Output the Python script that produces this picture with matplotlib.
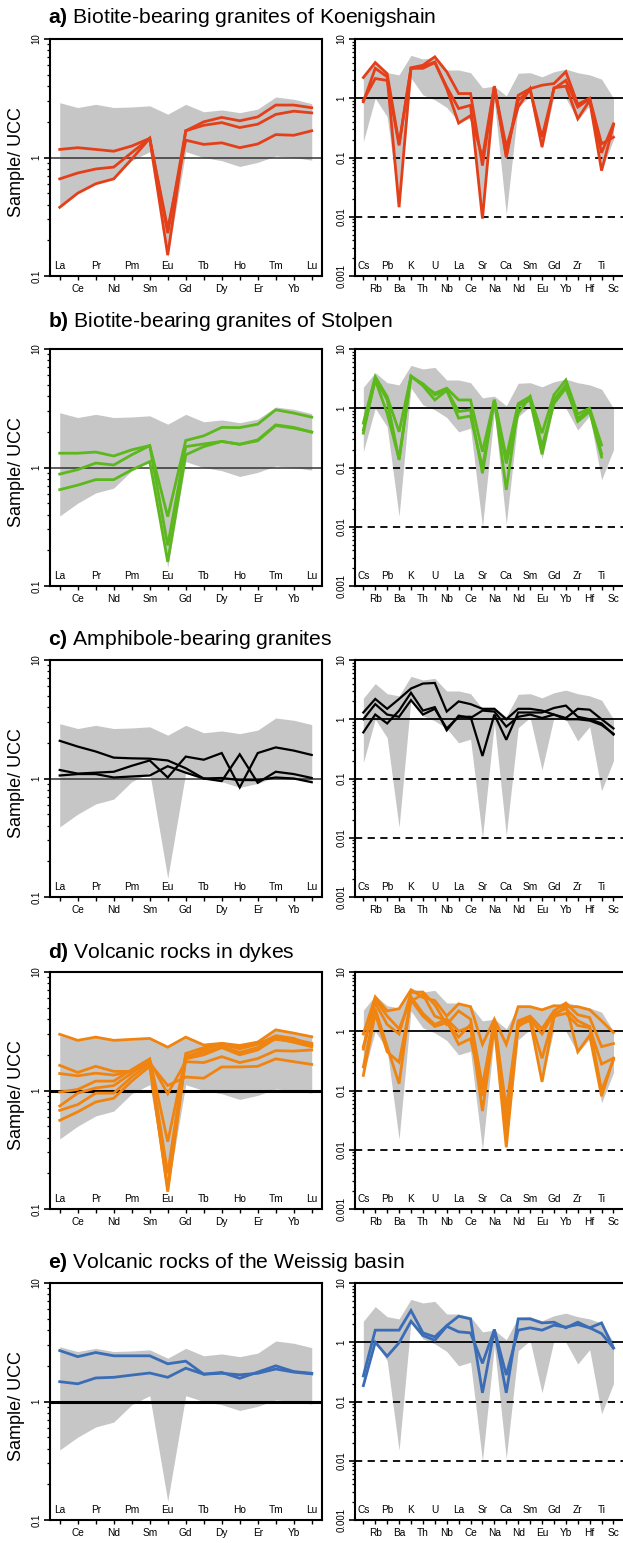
import matplotlib
matplotlib.use('Agg')
import matplotlib.pyplot as plt
import numpy as np
from matplotlib.ticker import NullFormatter, LogLocator

plt.rcParams['font.family'] = ['Liberation Sans', 'DejaVu Sans']
plt.rcParams['mathtext.fontset'] = 'custom'
plt.rcParams['mathtext.rm'] = 'Liberation Sans'
plt.rcParams['mathtext.bf'] = 'Liberation Sans:bold'

nan = np.nan

# element order
ree = ['La', 'Ce', 'Pr', 'Nd', 'Pm', 'Sm', 'Eu', 'Gd', 'Tb', 'Dy', 'Ho', 'Er', 'Tm', 'Yb', 'Lu']
spider = ['Cs', 'Rb', 'Pb', 'Ba', 'K', 'Th', 'U', 'Nb', 'La', 'Ce', 'Sr', 'Na',
          'Ca', 'Nd', 'Sm', 'Eu', 'Gd', 'Yb', 'Zr', 'Hf', 'Ti', 'Sc']

# grey envelope (all samples)
ree_env_hi = [2.9, 2.64, 2.81, 2.64, 2.67, 2.73, 2.32, 2.81, 2.43, 2.52, 2.39, 2.56, 3.24, 3.1, 2.85]
ree_env_lo = [0.39, 0.50, 0.61, 0.67, 0.94, 1.12, 0.144, 1.12, 1.0, 0.94, 0.84, 0.91, 1.03, 1.0, 0.95]
spi_env_hi = [2.26, 4.0, 2.7, 2.48, 5.3, 4.6, 4.9, 3.0, 3.0, 2.7, 1.5, 1.6, 1.1, 2.64,
              2.7, 2.3, 2.8, 3.1, 2.7, 2.48, 2.1, 1.0]
spi_env_lo = [0.185, 1.0, 0.49, 0.015, 2.2, 1.14, 0.94, 0.70, 0.40, 0.46, 0.01, 0.88, 0.011, 0.72,
              1.07, 0.14, 1.07, 1.0, 0.43, 0.75, 0.062, 0.2]

titles = ['a)', 'b)', 'c)', 'd)', 'e)']
subtitles = ['Biotite-bearing granites of Koenigshain',
             'Biotite-bearing granites of Stolpen',
             'Amphibole-bearing granites',
             'Volcanic rocks in dykes',
             'Volcanic rocks of the Weissig basin']
colors = ['#E3401A', '#5CB81C', '#000000', '#F08410', '#3A6DB5']

# a) Koenigshain
ree_a = [
    [1.17, 1.21, 1.17, 1.13, 1.25, 1.45, 0.23, 1.68, 2.0, 2.18, 2.04, 2.2, 2.77, 2.77, 2.63],
    [0.66, 0.74, 0.80, 0.83, 1.10, 1.45, 0.15, 1.68, 1.87, 1.97, 1.79, 1.91, 2.31, 2.46, 2.38],
    [0.38, 0.50, 0.60, 0.66, 0.97, 1.45, 0.25, 1.40, 1.29, 1.33, 1.21, 1.30, 1.56, 1.54, 1.68],
]
spi_a = [
    [2.24, 4.0, 2.6, 0.17, 3.27, 3.6, 5.0, 2.8, 1.2, 1.2, 0.073, 1.6, 0.1, 1.12, 1.45, 1.66, 1.77, 2.8, 0.79, 1.0, 0.17, 0.22],
    [0.87, 3.2, 2.3, 0.0145, 3.2, 3.2, 4.0, 1.55, 0.67, 0.76, 0.0093, 1.55, 0.15, 0.71, 1.45, 0.15, 1.5, 1.6, 0.45, 0.92, 0.06, 0.35],
    [0.92, 2.15, 2.0, 0.16, 3.2, 3.4, 4.1, 1.45, 0.38, 0.51, 0.1, 1.6, 0.108, 0.92, 1.4, 0.22, 1.45, 2.0, 0.71, 0.98, 0.12, 0.37],
]

# b) Stolpen
ree_b = [
    [1.32, 1.32, 1.35, 1.25, 1.41, 1.53, 0.385, 1.69, 1.85, 2.18, 2.17, 2.32, 3.07, 2.88, 2.66],
    [0.88, 0.96, 1.09, 1.05, 1.28, 1.53, 0.22, 1.50, 1.58, 1.66, 1.57, 1.71, 2.29, 2.18, 1.99],
    [0.65, 0.71, 0.79, 0.79, 0.955, 1.12, 0.16, 1.28, 1.50, 1.66, 1.57, 1.68, 2.26, 2.15, 1.99],
]
spi_b = [
    [0.56, 3.4, 1.57, 0.4, 3.5, 2.5, 1.79, 2.18, 1.38, 1.38, 0.185, 1.38, 0.15, 1.2, 1.57, 0.38, 1.68, 3.0, 0.8, 1.0, 0.24, nan],
    [0.38, 3.2, 1.38, 0.134, 3.5, 2.4, 1.38, 2.0, 0.88, 0.94, 0.08, 1.38, 0.042, 1.1, 1.38, 0.167, 1.38, 2.48, 0.6, 0.88, 0.15, nan],
    [0.43, 3.0, 0.82, 0.14, 3.4, 2.6, 1.68, 2.0, 0.68, 0.74, 0.1, 1.38, 0.117, 0.82, 1.57, 0.225, 1.2, 2.18, 0.68, 0.94, 0.17, nan],
]

# c) amphibole-bearing granites
ree_c = [
    [2.08, 1.86, 1.69, 1.50, 1.48, 1.47, 1.42, 1.22, 1.0, 0.95, 1.6, 0.92, 1.14, 1.09, 1.01],
    [1.18, 1.10, 1.12, 1.14, 1.28, 1.42, 1.02, 1.53, 1.44, 1.64, 0.84, 1.64, 1.83, 1.72, 1.58],
    [1.06, 1.09, 1.09, 1.02, 1.04, 1.06, 1.27, 1.12, 1.0, 1.01, 0.97, 0.97, 1.02, 1.0, 0.93],
]
spi_c = [
    [1.3, 2.2, 1.5, 2.2, 3.3, 4.0, 4.1, 1.35, 2.0, 1.8, 1.5, 1.5, 1.0, 1.5, 1.5, 1.4, 1.2, 1.05, 1.5, 1.45, 1.0, 0.7],
    [1.0, 1.8, 1.2, 1.1, 2.1, 1.2, 1.5, 0.7, 1.1, 1.1, 0.24, 1.2, 0.45, 1.3, 1.3, 1.3, 1.55, 1.7, 1.1, 1.0, 0.85, 0.55],
    [0.6, 1.2, 0.85, 1.4, 2.8, 1.4, 1.6, 0.65, 1.15, 1.05, 1.4, 1.35, 0.75, 1.1, 1.2, 1.05, 1.2, 1.0, 1.0, 0.95, 0.8, 0.57],
]

# d) dykes
ree_d = [
    [2.98, 2.65, 2.82, 2.65, 2.7, 2.75, 2.32, 2.82, 2.42, 2.5, 2.4, 2.56, 3.25, 3.05, 2.84],
    [1.63, 1.42, 1.6, 1.45, 1.45, 1.7, 1.1, 1.3, 1.27, 1.58, 1.58, 1.6, 1.85, 1.75, 1.66],
    [1.39, 1.33, 1.4, 1.35, 1.45, 1.75, 0.94, 1.75, 1.72, 1.93, 1.72, 1.86, 2.17, 2.15, 2.2],
    [0.97, 1.02, 1.2, 1.2, 1.5, 1.85, 0.37, 1.95, 2.1, 2.35, 2.1, 2.3, 2.85, 2.7, 2.5],
    [0.74, 0.95, 1.05, 1.1, 1.4, 1.8, 0.2, 2.05, 2.3, 2.45, 2.25, 2.45, 2.9, 2.75, 2.4],
    [0.68, 0.76, 0.95, 0.95, 1.3, 1.7, 0.14, 1.85, 2.0, 2.3, 2.0, 2.2, 2.75, 2.55, 2.34],
    [0.56, 0.66, 0.8, 0.86, 1.2, 1.6, 0.15, 1.9, 2.2, 2.5, 2.3, 2.55, 2.7, 2.6, 2.42],
]
spi_d = [
    [0.9, 3.8, 2.2, 2.4, 5.0, 3.7, 3.3, 1.8, 2.9, 2.6, 0.6, 1.6, 0.6, 2.6, 2.6, 2.3, 2.7, 2.6, 2.6, 2.3, 1.5, 0.95],
    [0.55, 3.0, 1.3, 0.9, 4.5, 4.6, 2.8, 1.3, 2.2, 1.6, 0.12, 1.5, 0.05, 1.5, 1.8, 1.1, 2.2, 3.0, 1.9, 1.7, 0.55, 0.62],
    [0.25, 2.4, 0.55, 0.13, 3.8, 2.0, 1.3, 1.6, 1.0, 1.2, 0.045, 1.2, 0.011, 1.3, 1.5, 0.14, 1.7, 2.8, 0.45, 0.85, 0.08, 0.35],
    [0.18, 2.0, 0.45, 0.3, 3.2, 4.2, 1.8, 1.5, 0.6, 0.75, 0.1, 1.4, 0.03, 1.2, 1.6, 0.35, 1.8, 2.0, 1.25, 1.15, 0.28, 0.35],
    [0.5, 3.5, 1.8, 1.1, 3.4, 1.8, 1.2, 1.4, 0.8, 1.3, 0.08, 1.5, 0.02, 1.4, 1.6, 0.9, 2.0, 2.4, 1.5, 1.2, 0.1, 0.33],
]

# e) Weissig basin
ree_e = [
    [2.69, 2.39, 2.59, 2.43, 2.43, 2.43, 2.08, 2.19, 1.70, 1.76, 1.57, 1.77, 2.0, 1.79, 1.73],
    [1.47, 1.41, 1.58, 1.60, 1.67, 1.74, 1.6, 1.91, 1.70, 1.73, 1.68, 1.73, 1.88, 1.77, 1.71],
]
spi_e = [
    [0.27, 1.6, 1.6, 1.6, 3.43, 1.44, 1.23, 1.91, 2.75, 2.48, 0.14, 1.64, 0.14, 2.48, 2.48, 2.12, 2.18, 1.75, 2.18, 1.75, 2.12, 0.8],
    [0.185, 1.0, 0.58, 0.98, 2.26, 1.3, 1.08, 1.86, 1.5, 1.44, 0.44, 1.64, 0.28, 1.6, 1.75, 1.6, 1.94, 1.8, 1.99, 1.75, 1.4, 0.8],
]

ree_sets = [ree_a, ree_b, ree_c, ree_d, ree_e]
spi_sets = [spi_a, spi_b, spi_c, spi_d, spi_e]

W, H = 623, 1543
fig = plt.figure(figsize=(W / 100, H / 100), dpi=100)

tops = [39, 349, 660, 972, 1283]
ax_h = 237
title_base = [23, 327, 645, 958, 1268]


def px_axes(x0, x1, top):
    return fig.add_axes([x0 / W, 1 - (top + ax_h) / H, (x1 - x0) / W, ax_h / H])


def style(ax, names, yticks, ylabels, xlim):
    ax.set_yscale('log')
    ax.set_ylim(yticks[0], yticks[-1])
    ax.set_xlim(*xlim)
    n = len(names)
    pos = np.arange(1, n + 1)
    ax.set_xticks(pos)
    # every second name sits under the axis, the others just inside it
    ax.set_xticklabels([nm if i % 2 == 1 else '' for i, nm in enumerate(names)])
    for i, nm in enumerate(names):
        if i % 2 == 0:
            ax.annotate(nm, xy=(pos[i], 0), xycoords=ax.get_xaxis_transform(),
                        xytext=(0, 3.5), textcoords='offset points',
                        ha='center', va='bottom', fontsize=7.3)
    ax.set_yticks(yticks)
    ax.set_yticklabels(ylabels)
    ax.yaxis.set_minor_locator(LogLocator(base=10, subs=np.arange(2, 10)))
    ax.yaxis.set_minor_formatter(NullFormatter())
    for t in ax.get_yticklabels():
        t.set_rotation(90)
        t.set_va('center')
    ax.tick_params(axis='x', direction='out', length=3, width=1, labelsize=7.3, pad=2.5)
    ax.tick_params(axis='y', which='major', direction='out', length=4.5, width=1.2, labelsize=7, pad=1.5)
    ax.tick_params(axis='y', which='minor', direction='out', length=2.5, width=0.9)
    for s in ax.spines.values():
        s.set_linewidth(1.5)


for k in range(5):
    top = tops[k]
    col = colors[k]
    lw = 1.6 if k == 2 else 2.0

    # REE panel
    axL = px_axes(50, 322, top)
    x = np.arange(1, len(ree) + 1)
    axL.fill_between(x, ree_env_lo, ree_env_hi, color='#C6C6C6', lw=0, zorder=1)
    if k >= 3:
        axL.axhline(1, color='black', lw=2.2, zorder=2)
    else:
        axL.axhline(1, color='#333333', lw=1.1, zorder=2)
    for row in ree_sets[k]:
        axL.plot(x, row, color=col, lw=lw, zorder=3, solid_joinstyle='miter')
    style(axL, ree, [0.1, 1, 10], ['0.1', '1', '10'], (0.46, 15.57))

    # spider panel
    axR = px_axes(355, 626, top)
    xs = np.arange(1, len(spider) + 1)
    axR.fill_between(xs, spi_env_lo, spi_env_hi, color='#C6C6C6', lw=0, zorder=1)
    axR.axhline(1, color='black', lw=1.3, zorder=2)
    for yv in (0.1, 0.01):
        axR.axhline(yv, color='black', lw=1.3, dashes=(4, 3), zorder=2)
    for row in spi_sets[k]:
        axR.plot(xs, row, color=col, lw=lw, zorder=3, solid_joinstyle='miter')
    style(axR, spider, [0.001, 0.01, 0.1, 1, 10], ['0.001', '0.01', '0.1', '1', '10'], (0.30, 23.05))

    fig.text(48 / W, 1 - title_base[k] / H, r'$\bf{' + titles[k] + r'}$ ' + subtitles[k],
             fontsize=15.2, ha='left', va='baseline')
    fig.text(17 / W, 1 - (top + ax_h / 2 + 5) / H, 'Sample/ UCC', rotation=90,
             fontsize=13, ha='center', va='center')

fig.savefig('out.png', dpi=100)
